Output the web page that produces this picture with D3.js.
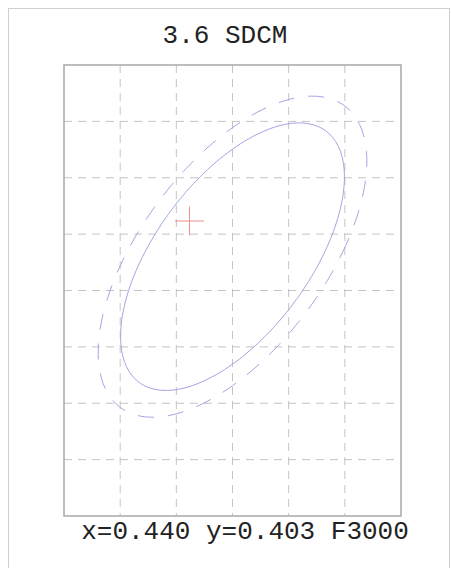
<!DOCTYPE html>
<html>
<head>
<meta charset="utf-8">
<script src="https://cdn.jsdelivr.net/npm/d3@7"></script>
<style>
  body { margin: 0; background: #fff; }
  svg { display: block; }
</style>
</head>
<body>
<div id="chart"></div>
<script>
// chromaticity values
const refCenter = [0.440, 0.403];            // F3000 centre (x, y)
const metric = [39.0e4, -19.5e4, 27.5e4];    // g11, g12, g22 of the F3000 ellipse
const ellipseSteps = [3, 3.6];               // solid, dashed
const measured = [0.4377, 0.4049];           // red cross
const xGrid = [0.431, 0.434, 0.437, 0.440, 0.443, 0.446, 0.449];
const yGrid = [0.3892, 0.3922, 0.3952, 0.3982, 0.4012, 0.4042, 0.4072, 0.4102, 0.4132];
const title = "3.6 SDCM";
const footer = "x=0.440 y=0.403 F3000";

const width = 451, height = 568;
const plot = {left: 64, right: 401, top: 65, bottom: 516};

const svg = d3.select("#chart").append("svg")
    .attr("width", width)
    .attr("height", height);

// outer light border
svg.append("rect")
    .attr("x", 8.5).attr("y", 8.5)
    .attr("width", 441).attr("height", 620)
    .attr("fill", "none")
    .attr("stroke", "#cfcfcf");

const xScale = d3.scaleLinear()
    .domain([xGrid[0], xGrid[xGrid.length - 1]])
    .range([plot.left, plot.right]);

const yScale = d3.scaleLinear()
    .domain([yGrid[0], yGrid[yGrid.length - 1]])
    .range([plot.bottom, plot.top]);

// dashed grid
svg.append("g").selectAll("line")
    .data(xGrid.slice(1, -1))
    .join("line")
    .attr("x1", d => xScale(d)).attr("x2", d => xScale(d))
    .attr("y1", plot.top).attr("y2", plot.bottom)
    .attr("stroke", "#c4c4c4")
    .attr("stroke-dasharray", "8,6");

svg.append("g").selectAll("line")
    .data(yGrid.slice(1, -1))
    .join("line")
    .attr("x1", plot.left).attr("x2", plot.right - 5)
    .attr("y1", d => yScale(d)).attr("y2", d => yScale(d))
    .attr("stroke", "#c4c4c4")
    .attr("stroke-dasharray", "8,6");

// plot frame
svg.append("rect")
    .attr("x", plot.left).attr("y", plot.top)
    .attr("width", plot.right - plot.left)
    .attr("height", plot.bottom - plot.top)
    .attr("fill", "none")
    .attr("stroke", "#a8a8a8")
    .attr("stroke-width", 1.5);

// ellipse of n steps from the metric: g11 dx^2 + 2 g12 dx dy + g22 dy^2 = n^2
function ellipsePoints(n) {
    return d3.range(0, 361, 2).map(a => {
        const t = a * Math.PI / 180, c = Math.cos(t), s = Math.sin(t);
        const q = metric[0] * c * c + 2 * metric[1] * c * s + metric[2] * s * s;
        const r = n / Math.sqrt(q);
        return [refCenter[0] + r * c, refCenter[1] + r * s];
    });
}

const line = d3.line()
    .x(d => xScale(d[0]))
    .y(d => yScale(d[1]))
    .curve(d3.curveCardinalClosed);

svg.selectAll(".ellipse")
    .data(ellipseSteps)
    .join("path")
    .attr("class", "ellipse")
    .attr("d", d => line(ellipsePoints(d).slice(0, -1)))
    .attr("fill", "none")
    .attr("stroke", "#a4a4e4")
    .attr("stroke-width", 1)
    .attr("stroke-dasharray", (d, i) => i === 0 ? null : "16,14");

// measured point cross
const cx = xScale(measured[0]), cy = yScale(measured[1]);
svg.append("line")
    .attr("x1", cx - 14.5).attr("x2", cx + 14.5)
    .attr("y1", cy).attr("y2", cy)
    .attr("stroke", "#f08c8c");
svg.append("line")
    .attr("x1", cx).attr("x2", cx)
    .attr("y1", cy - 14.5).attr("y2", cy + 14.5)
    .attr("stroke", "#f08c8c");

// texts
svg.append("text")
    .attr("x", 225).attr("y", 43)
    .attr("text-anchor", "middle")
    .attr("font-family", "'Liberation Mono', 'Courier New', monospace")
    .attr("font-size", 26)
    .attr("fill", "#222")
    .text(title);

svg.append("text")
    .attr("x", 245).attr("y", 539)
    .attr("text-anchor", "middle")
    .attr("font-family", "'Liberation Mono', 'Courier New', monospace")
    .attr("font-size", 26)
    .attr("fill", "#222")
    .text(footer);
</script>
</body>
</html>
